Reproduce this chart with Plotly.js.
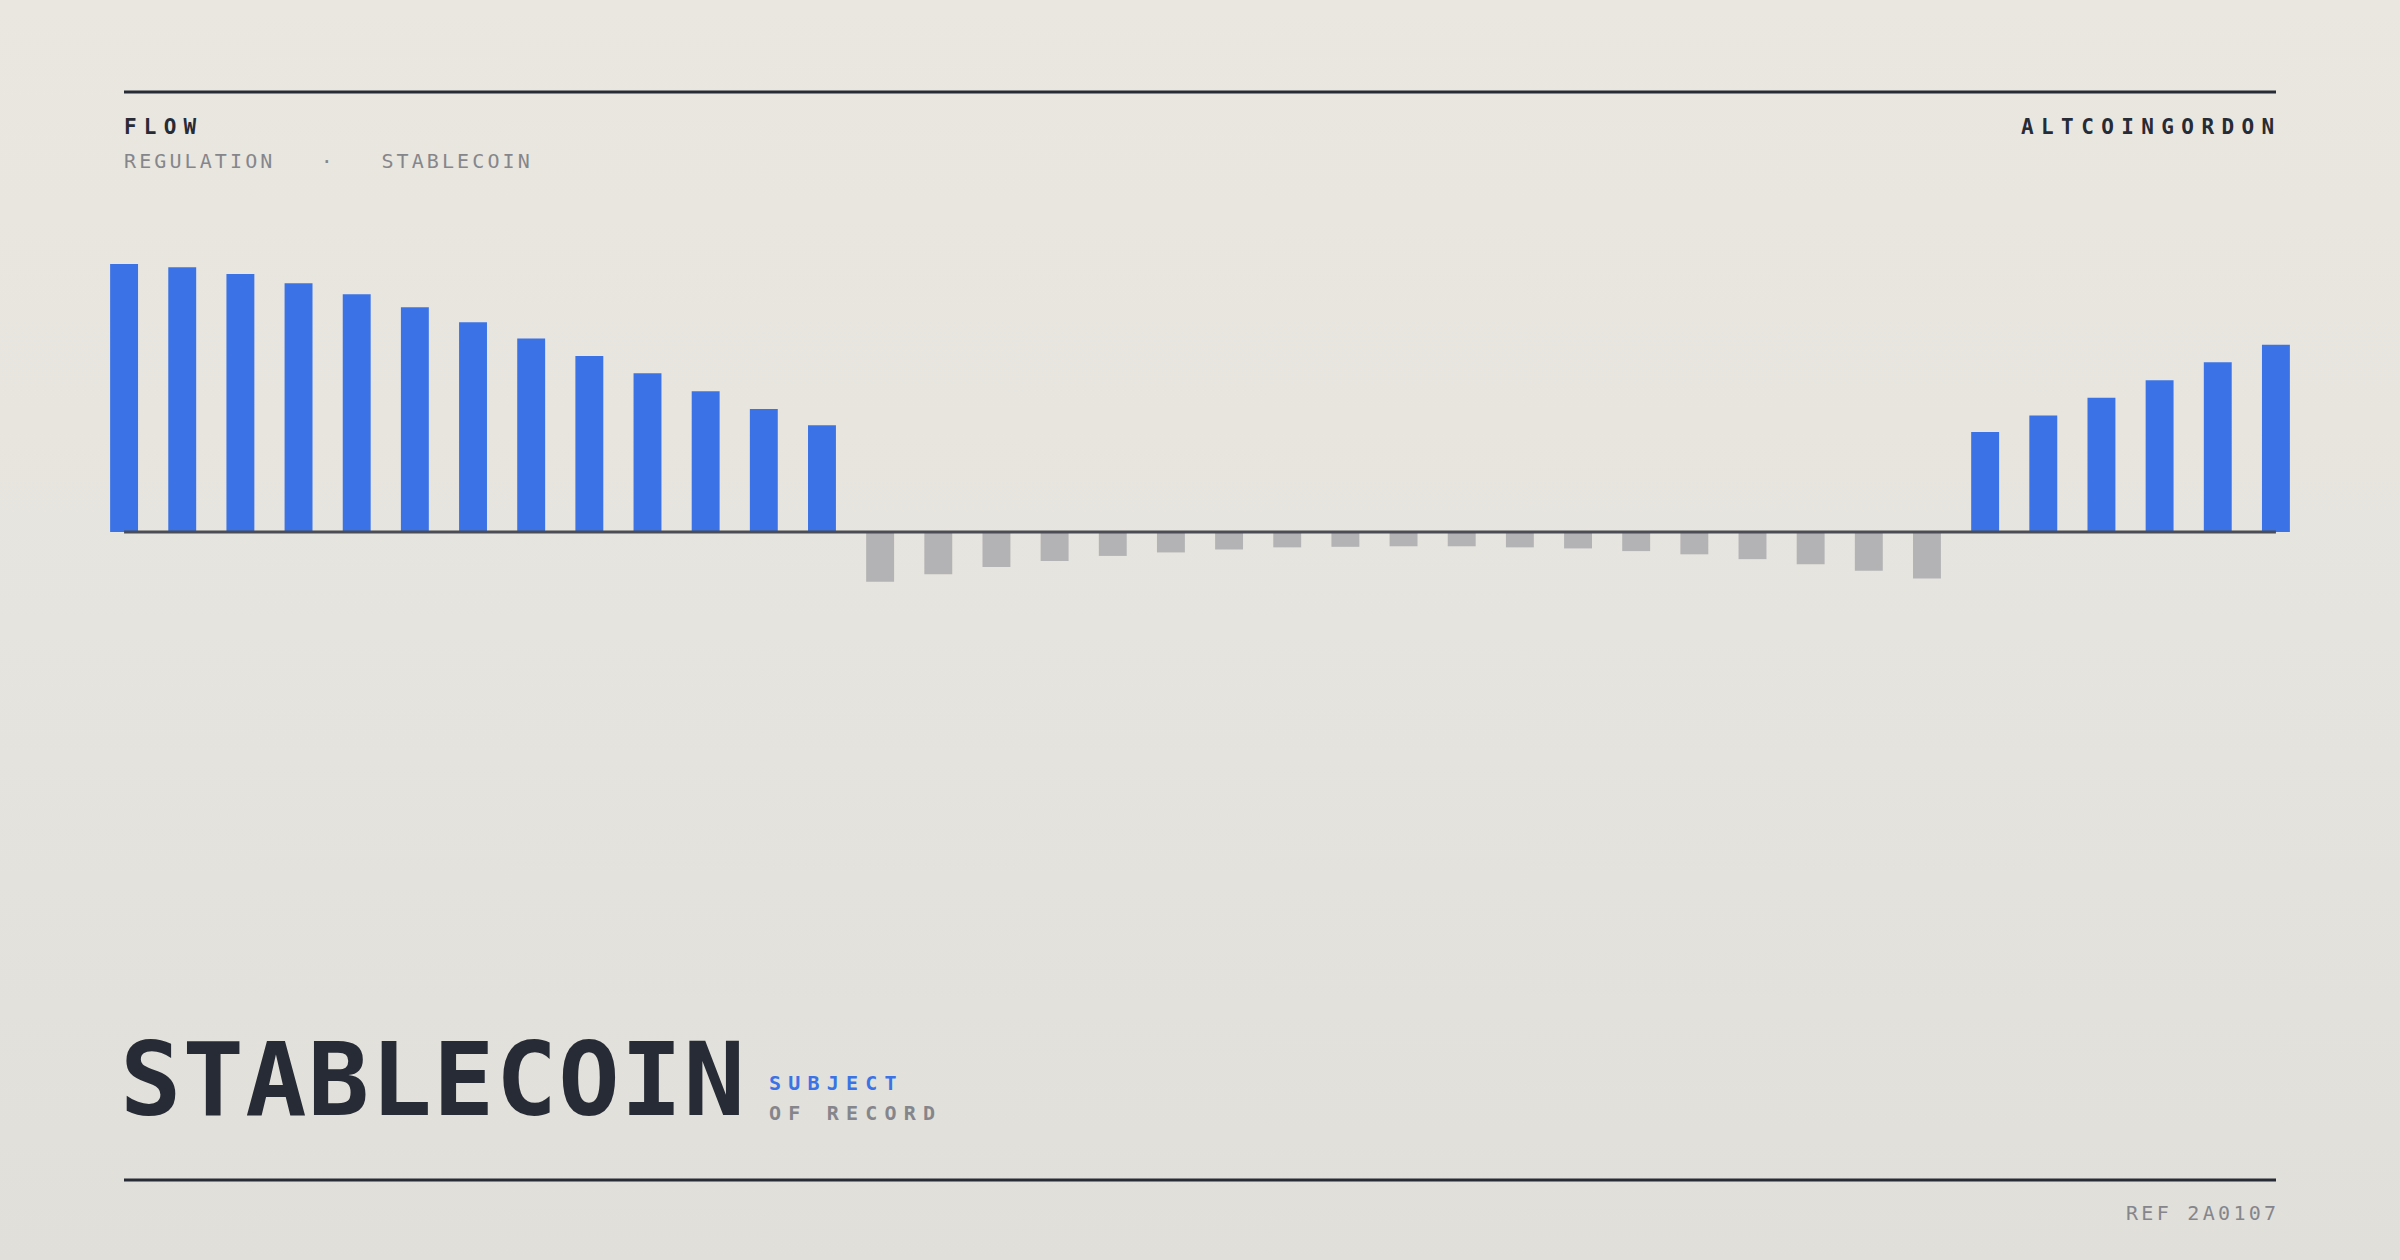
<!DOCTYPE html>
<html>
<head>
<meta charset="utf-8">
<script src="https://cdn.plot.ly/plotly-3.0.1.min.js"></script>
<style>
  html, body { margin: 0; padding: 0; }
  body { width: 2400px; height: 1260px; background: linear-gradient(180deg, #eae7e0 0%, #e6e4de 50%, #e0dfda 100%); overflow: hidden; }
  #chart { width: 2400px; height: 1260px; }
</style>
</head>
<body>
<div id="chart"></div>
<script>
// ---- data ----
const periods = Array.from({length: 38}, (_, i) => i);
const flowLeft = [99.9, 98.7, 96.2, 92.8, 88.7, 83.8, 78.2, 72.2, 65.6, 59.2, 52.5, 45.9, 39.8];
const flowMid = [-18.5, -15.7, -13.0, -10.8, -8.9, -7.6, -6.5, -5.7, -5.5, -5.3, -5.3, -5.7, -6.1, -7.1, -8.3, -10.1, -12.0, -14.4, -17.3];
const flowRight = [37.3, 43.5, 50.1, 56.6, 63.3, 69.8];
const flowValues = flowLeft.concat(flowMid, flowRight);

const kicker = "FLOW";
const subtitle = "REGULATION   ·   STABLECOIN";
const brand = "ALTCOINGORDON";
const heroWord = "STABLECOIN";
const tagTop = "SUBJECT";
const tagBottom = "OF RECORD";
const refCode = "REF 2A0107";

// ---- layout helpers ----
const W = 2400, H = 1260;
const M = {l: 95, r: 95, t: 237, b: 567};
const PW = W - M.l - M.r, PH = H - M.t - M.b;
const px = x => (x - M.l) / PW;
const py = y => 1 - (y - M.t) / PH;

const INK = '#272b35';
const BLUE = '#3b73e6';
const GREY = '#b3b3b5';
const MUTED = '#85868c';
const FONT = '"DejaVu Sans Mono", "Liberation Mono", monospace';

function spaced(t, ls) { return '<span style="letter-spacing:' + ls + 'px">' + t + '</span>'; }

const colors = flowValues.map(v => v >= 0 ? BLUE : GREY);

const trace = {
  type: 'bar',
  x: periods,
  y: flowValues,
  marker: {color: colors, line: {width: 0}},
  width: 0.48,
  hoverinfo: 'skip',
  cliponaxis: false
};

function ann(text, xPx, yPx, size, color, anchor, bold) {
  return {
    text: text, xref: 'paper', yref: 'paper', x: px(xPx), y: py(yPx),
    xanchor: anchor, yanchor: 'middle', showarrow: false,
    font: {family: FONT, size: size, color: color, weight: bold ? 700 : 400}
  };
}

const layout = {
  width: W, height: H,
  margin: M,
  paper_bgcolor: 'rgba(0,0,0,0)',
  plot_bgcolor: 'rgba(0,0,0,0)',
  showlegend: false,
  bargap: 0.52,
  xaxis: {range: [-0.5, 37.5], visible: false, fixedrange: true},
  yaxis: {range: [-60, 110], visible: false, fixedrange: true, zeroline: false, showgrid: false},
  shapes: [
    {type: 'line', xref: 'paper', yref: 'paper', x0: px(124), x1: px(2276), y0: py(92), y1: py(92), line: {color: INK, width: 3}},
    {type: 'line', xref: 'paper', yref: 'paper', x0: px(124), x1: px(2276), y0: py(1180), y1: py(1180), line: {color: INK, width: 3}},
    {type: 'line', xref: 'x', yref: 'y', x0: 0, x1: 37, y0: 0, y1: 0, layer: 'above', line: {color: '#4a4d55', width: 3}}
  ],
  annotations: [
    ann(spaced(kicker, 7.2), 122, 127, 21, INK, 'left', true),
    ann(spaced(subtitle, 3.1), 122, 161, 20, MUTED, 'left', false),
    ann(spaced(brand, 7.4), 2284, 127, 21, INK, 'right', true),
    ann(spaced(heroWord, 1.2), 118, 1079, 102, INK, 'left', true),
    ann(spaced(tagTop, 7.2), 767, 1083, 20, BLUE, 'left', true),
    ann(spaced(tagBottom, 7.2), 767, 1112.5, 20, MUTED, 'left', true),
    ann(spaced(refCode, 3.3), 2281, 1212.5, 20, MUTED, 'right', false)
  ]
};

Plotly.newPlot('chart', [trace], layout, {displayModeBar: false, staticPlot: true});
</script>
</body>
</html>
